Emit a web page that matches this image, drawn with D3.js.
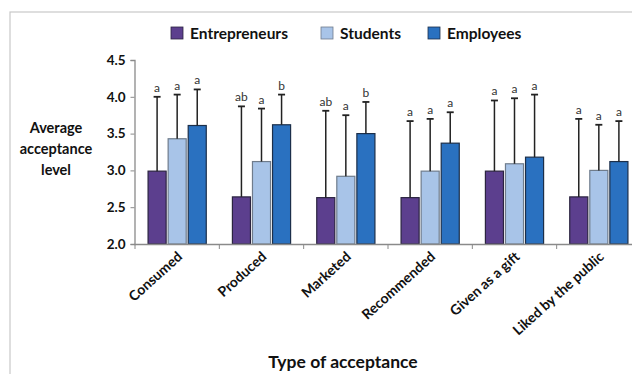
<!DOCTYPE html>
<html>
<head>
<meta charset="utf-8">
<script src="https://cdn.jsdelivr.net/npm/d3@7"></script>
<style>
  body { margin: 0; background: #fff; }
  svg { display: block; }
  text { font-family: Lato, "Open Sans", sans-serif; fill: #111; }
</style>
</head>
<body>
<div id="chart"></div>
<script>
// data
const categories = ['Consumed', 'Produced', 'Marketed', 'Recommended', 'Given as a gift', 'Liked by the public'];
const groups = ['Entrepreneurs', 'Students', 'Employees'];
const entrepreneurs = [2.99, 2.64, 2.63, 2.63, 2.99, 2.64];
const students = [3.43, 3.12, 2.92, 2.99, 3.09, 3.00];
const employees = [3.61, 3.62, 3.50, 3.37, 3.18, 3.12];
// upper end of error bars
const entrepreneursErr = [4.00, 3.87, 3.81, 3.67, 3.95, 3.70];
const studentsErr = [4.03, 3.84, 3.75, 3.70, 3.98, 3.62];
const employeesErr = [4.10, 4.03, 3.93, 3.79, 4.03, 3.67];
// significance letters
const entrepreneursSig = ['a', 'ab', 'ab', 'a', 'a', 'a'];
const studentsSig = ['a', 'a', 'a', 'a', 'a', 'a'];
const employeesSig = ['a', 'b', 'b', 'a', 'a', 'a'];
const yTicks = [2.0, 2.5, 3.0, 3.5, 4.0, 4.5];

const colors = ['#5c3f8e', '#a8c4e8', '#2a71c0'];
const strokes = ['#2b2440', '#6f7c8c', '#1c2f4a'];

const series = [
    { vals: entrepreneurs, err: entrepreneursErr, sig: entrepreneursSig },
    { vals: students, err: studentsErr, sig: studentsSig },
    { vals: employees, err: employeesErr, sig: employeesSig }
];

const W = 632, H = 374;
const svg = d3.select('#chart').append('svg')
    .attr('width', W)
    .attr('height', H);

// outer frame
svg.append('rect')
    .attr('x', 10).attr('y', 12)
    .attr('width', 640).attr('height', 380)
    .attr('fill', 'none')
    .attr('stroke', '#c8c8c8')
    .attr('stroke-width', 1.2);

const x0 = d3.scaleBand()
    .domain(categories)
    .range([135, 641])
    .paddingInner(0.31)
    .paddingOuter(0.155);

const x1 = d3.scaleBand()
    .domain(d3.range(groups.length))
    .range([0, x0.bandwidth()])
    .paddingInner(0.1);

const y = d3.scaleLinear()
    .domain([2.0, 4.5])
    .range([244, 60]);

// bars
series.forEach((s, si) => {
    const g = svg.append('g');
    g.selectAll('rect')
        .data(categories)
        .enter().append('rect')
        .attr('x', (c) => x0(c) + x1(si))
        .attr('y', (c, i) => y(s.vals[i]))
        .attr('width', x1.bandwidth())
        .attr('height', (c, i) => y(2.0) - y(s.vals[i]))
        .attr('fill', colors[si])
        .attr('stroke', strokes[si])
        .attr('stroke-width', 1.2);

    // error bars
    g.selectAll('line.err')
        .data(categories)
        .enter().append('line')
        .attr('class', 'err')
        .attr('x1', (c) => x0(c) + x1(si) + x1.bandwidth() / 2)
        .attr('x2', (c) => x0(c) + x1(si) + x1.bandwidth() / 2)
        .attr('y1', (c, i) => y(s.vals[i]))
        .attr('y2', (c, i) => y(s.err[i]))
        .attr('stroke', '#222')
        .attr('stroke-width', 1.5);

    g.selectAll('line.cap')
        .data(categories)
        .enter().append('line')
        .attr('class', 'cap')
        .attr('x1', (c) => x0(c) + x1(si) + x1.bandwidth() / 2 - 3.5)
        .attr('x2', (c) => x0(c) + x1(si) + x1.bandwidth() / 2 + 3.5)
        .attr('y1', (c, i) => y(s.err[i]))
        .attr('y2', (c, i) => y(s.err[i]))
        .attr('stroke', '#222')
        .attr('stroke-width', 1.8);

    g.selectAll('text')
        .data(categories)
        .enter().append('text')
        .attr('x', (c) => x0(c) + x1(si) + x1.bandwidth() / 2)
        .attr('y', (c, i) => y(s.err[i]) - 5)
        .attr('text-anchor', 'middle')
        .style('font-size', '12px')
        .style('fill', '#333')
        .text((c, i) => s.sig[i]);
});

// y axis
const yAxis = svg.append('g')
    .attr('transform', 'translate(134.5,0)')
    .call(d3.axisLeft(y).tickValues(yTicks).tickFormat(d3.format('.1f')).tickSize(4).tickPadding(5));
yAxis.select('.domain').attr('stroke', '#8a8a8a').attr('stroke-width', 1.3);
yAxis.selectAll('.tick line').attr('stroke', '#8a8a8a');
yAxis.selectAll('.tick text')
    .style('font-size', '13.5px')
    .style('font-weight', 'bold')
    .style('fill', '#111');

// x axis
const xTickPos = categories.map((c) => x0(c) - x0.step() * x0.paddingInner() / 2);
svg.append('line')
    .attr('x1', 134.5).attr('x2', W)
    .attr('y1', 244.5).attr('y2', 244.5)
    .attr('stroke', '#8a8a8a')
    .attr('stroke-width', 1.3);
svg.selectAll('line.xtick')
    .data(xTickPos)
    .enter().append('line')
    .attr('class', 'xtick')
    .attr('x1', (d) => d).attr('x2', (d) => d)
    .attr('y1', 244.5).attr('y2', 249)
    .attr('stroke', '#8a8a8a');

svg.selectAll('text.xlab')
    .data(categories)
    .enter().append('text')
    .attr('class', 'xlab')
    .attr('text-anchor', 'end')
    .attr('transform', (c) => `translate(${x0(c) + x0.bandwidth() / 2 + 6},${258}) rotate(-42)`)
    .style('font-size', '14px')
    .style('font-weight', 'bold')
    .text((c) => c);

// axis titles
svg.append('text')
    .attr('x', 343).attr('y', 368)
    .attr('text-anchor', 'middle')
    .style('font-size', '17.5px')
    .style('font-weight', 'bold')
    .text('Type of acceptance');

const yLabel = svg.append('text')
    .attr('text-anchor', 'middle')
    .style('font-size', '14.5px')
    .style('font-weight', 'bold');
['Average', 'acceptance', 'level'].forEach((t, i) => {
    yLabel.append('tspan')
        .attr('x', 56)
        .attr('y', 133 + i * 21)
        .text(t);
});

// legend
const legendX = [171, 321, 428];
groups.forEach((name, i) => {
    svg.append('rect')
        .attr('x', legendX[i]).attr('y', 27)
        .attr('width', 12).attr('height', 12)
        .attr('fill', colors[i])
        .attr('stroke', strokes[i])
        .attr('stroke-width', 0.8);
    svg.append('text')
        .attr('x', legendX[i] + 19).attr('y', 38.5)
        .style('font-size', '15.5px')
        .style('font-weight', 'bold')
        .text(name);
});
</script>
</body>
</html>
